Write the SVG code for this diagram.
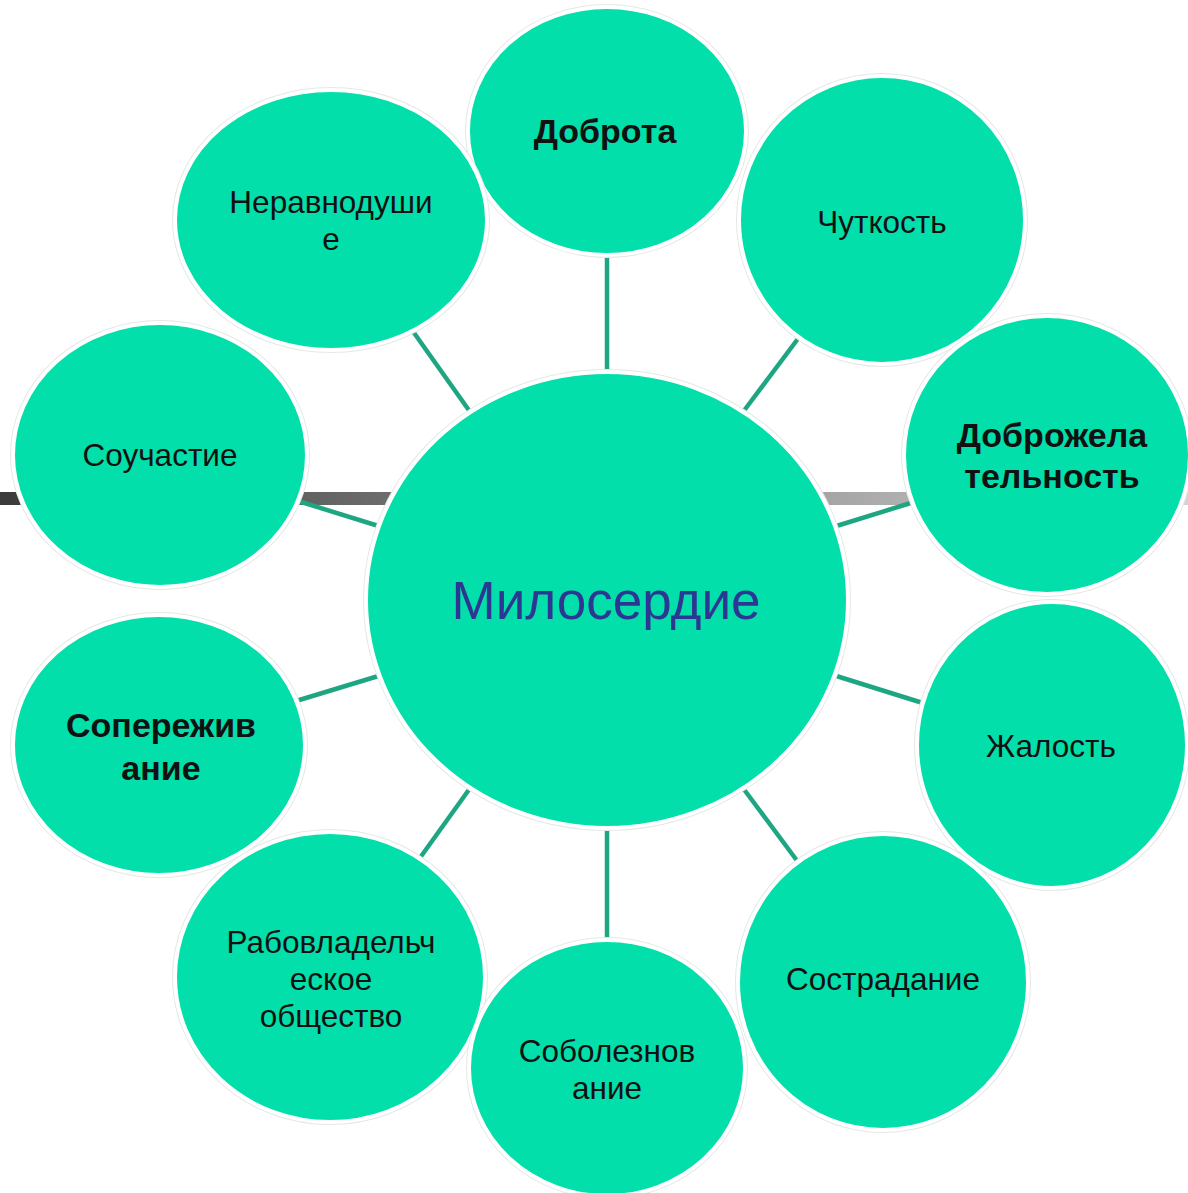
<svg xmlns="http://www.w3.org/2000/svg" width="1188" height="1193" viewBox="0 0 1188 1193">
<defs>
<linearGradient id="bar" x1="0" y1="0" x2="1" y2="0">
<stop offset="0" stop-color="#3a3a3a"/>
<stop offset="1" stop-color="#d4d4d4"/>
</linearGradient>
<style>
.n ellipse.o{fill:none;stroke:#e4e8e8;stroke-width:6}
.n ellipse.f{fill:#02dfaa;stroke:#ffffff;stroke-width:4}
.t{font-family:"Liberation Sans",Arial,sans-serif;font-size:31.5px;fill:#111;text-anchor:middle}
.b{font-weight:bold;font-size:34px}
.c line{stroke:#1ea682;stroke-width:4.5}
</style>
</defs>
<rect width="1188" height="1193" fill="#ffffff"/>
<rect x="0" y="492" width="1188" height="13" fill="url(#bar)"/>
<g id="connectors" class="c">
<line x1="607" y1="250" x2="607" y2="380"/>
<line x1="412" y1="330" x2="473" y2="416"/>
<line x1="800" y1="336" x2="740" y2="416"/>
<line x1="298" y1="501" x2="385" y2="528"/>
<line x1="830" y1="528" x2="914" y2="502"/>
<line x1="296" y1="701" x2="385" y2="674"/>
<line x1="830" y1="674" x2="926" y2="704"/>
<line x1="417" y1="862" x2="473" y2="784"/>
<line x1="740" y1="784" x2="798" y2="862"/>
<line x1="607" y1="820" x2="607" y2="945"/>
</g>
<g id="n-center" class="n">
<ellipse class="o" cx="607" cy="600" rx="241" ry="228"/>
<ellipse class="f" cx="607" cy="600" rx="241" ry="228"/>
<text class="t" x="606" y="619" style="font-size:53px;fill:#2b3793">Милосердие</text>
</g>
<g id="n-dobrota" class="n">
<ellipse class="o" cx="607" cy="131" rx="139" ry="124"/>
<ellipse class="f" cx="607" cy="131" rx="139" ry="124"/>
<text class="t b" x="605" y="143">Доброта</text>
</g>
<g id="n-chutkost" class="n">
<ellipse class="o" cx="882" cy="220" rx="143" ry="144"/>
<ellipse class="f" cx="882" cy="220" rx="143" ry="144"/>
<text class="t" x="882" y="233">Чуткость</text>
</g>
<g id="n-neravnodushie" class="n">
<ellipse class="o" cx="331" cy="220" rx="156" ry="130"/>
<ellipse class="f" cx="331" cy="220" rx="156" ry="130"/>
<text class="t" x="331" y="213">Неравнодуши</text>
<text class="t" x="331" y="250">е</text>
</g>
<g id="n-souchastie" class="n">
<ellipse class="o" cx="160" cy="455" rx="147" ry="132"/>
<ellipse class="f" cx="160" cy="455" rx="147" ry="132"/>
<text class="t" x="160" y="466">Соучастие</text>
</g>
<g id="n-dobrozhelatelnost" class="n">
<ellipse class="o" cx="1047" cy="455" rx="143" ry="139"/>
<ellipse class="f" cx="1047" cy="455" rx="143" ry="139"/>
<text class="t b" x="1052" y="447">Доброжела</text>
<text class="t b" x="1052" y="488">тельность</text>
</g>
<g id="n-soperezhivanie" class="n">
<ellipse class="o" cx="159" cy="745" rx="146" ry="130"/>
<ellipse class="f" cx="159" cy="745" rx="146" ry="130"/>
<text class="t b" x="161" y="737">Сопережив</text>
<text class="t b" x="161" y="780">ание</text>
</g>
<g id="n-zhalost" class="n">
<ellipse class="o" cx="1052" cy="745" rx="135" ry="143"/>
<ellipse class="f" cx="1052" cy="745" rx="135" ry="143"/>
<text class="t" x="1051" y="757">Жалость</text>
</g>
<g id="n-rabovladelcheskoe" class="n">
<ellipse class="o" cx="330" cy="977" rx="155" ry="145"/>
<ellipse class="f" cx="330" cy="977" rx="155" ry="145"/>
<text class="t" x="331" y="953">Рабовладельч</text>
<text class="t" x="331" y="990">еское</text>
<text class="t" x="331" y="1027">общество</text>
</g>
<g id="n-sostradanie" class="n">
<ellipse class="o" cx="883" cy="982" rx="145" ry="148"/>
<ellipse class="f" cx="883" cy="982" rx="145" ry="148"/>
<text class="t" x="883" y="990">Сострадание</text>
</g>
<g id="n-soboleznovanie" class="n">
<ellipse class="o" cx="607" cy="1068" rx="138" ry="128"/>
<ellipse class="f" cx="607" cy="1068" rx="138" ry="128"/>
<text class="t" x="607" y="1062">Соболезнов</text>
<text class="t" x="607" y="1099">ание</text>
</g>
</svg>
